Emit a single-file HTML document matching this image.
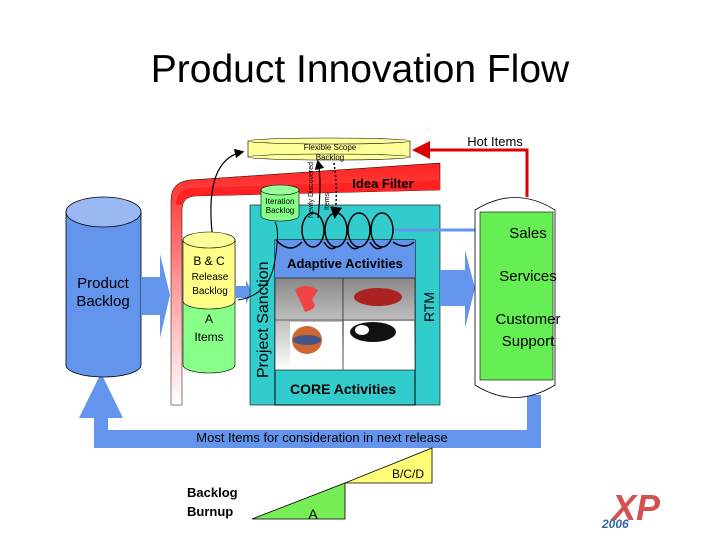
<!DOCTYPE html>
<html><head><meta charset="utf-8"><style>
body{margin:0;background:#fff}
svg{display:block}
text{font-family:"Liberation Sans","DejaVu Sans",sans-serif}
</style></head><body>
<svg width="720" height="540" viewBox="0 0 720 540" xmlns="http://www.w3.org/2000/svg">
<defs>
<linearGradient id="rg" x1="0" y1="0" x2="0" y2="1">
<stop offset="0" stop-color="#f22"/><stop offset="0.5" stop-color="#f99"/><stop offset="1" stop-color="#fff"/></linearGradient>
<linearGradient id="gg" x1="0" y1="0" x2="0" y2="1">
<stop offset="0" stop-color="#888"/><stop offset="1" stop-color="#fff"/></linearGradient>
<marker id="ah" markerWidth="8" markerHeight="8" refX="6" refY="4" orient="auto"><path d="M0,0 L8,4 L0,8z" fill="#000"/></marker>
<marker id="ahr" markerWidth="6" markerHeight="6" refX="4" refY="3" orient="auto"><path d="M0,0 L6,3 L0,6z" fill="#d00"/></marker>
</defs>
<text x="360" y="82" font-size="39" text-anchor="middle">Product Innovation Flow</text>

<!-- bottom loop -->
<rect x="94" y="410" width="14" height="38" fill="#6495ed"/>
<rect x="94" y="430" width="447" height="18" fill="#6495ed"/>
<rect x="527" y="395" width="14" height="53" fill="#6495ed"/>
<polygon points="101,373 79,418 123,418" fill="#6495ed"/>
<text x="322" y="442" font-size="13" text-anchor="middle">Most Items for consideration in next release</text>

<!-- product backlog -->
<path d="M66,212 V365 A37.5,12 0 0 0 141,365 V212z" fill="#6495ed" stroke="#000" stroke-width="0.8"/>
<ellipse cx="103.5" cy="212" rx="37.5" ry="15" fill="#9ab8f4" stroke="#000" stroke-width="0.8"/>
<text x="103" y="288" font-size="15" text-anchor="middle" fill="#000">Product</text>
<text x="103" y="306" font-size="15" text-anchor="middle" fill="#000">Backlog</text>
<polygon points="141,277 160,277 160,254 170,295 160,338 160,315 141,315" fill="#6495ed"/>

<!-- red idea filter band -->
<path d="M171,405 V200 Q171,182 190,180 L440,163 L440,190 L195,196 Q182,197 182,210 V405z" fill="url(#rg)" stroke="#000" stroke-width="0.5"/>
<path d="M182,205 Q183,196 195,196 L440,190 V180 L190,188 Q176,190 176,205z" fill="#f22"/>
<text x="383" y="188" font-size="13" font-weight="bold" text-anchor="middle">Idea Filter</text>

<!-- release backlog cylinder -->
<path d="M183,240 V365 A26,8 0 0 0 235,365 V240z" fill="#8f8" stroke="#000" stroke-width="0.6"/>
<path d="M183,240 V301 A26,8 0 0 0 235,301 V240z" fill="#ff8" stroke="#000" stroke-width="0.6"/>
<ellipse cx="209" cy="240" rx="26" ry="8" fill="#ffff99" stroke="#000" stroke-width="0.6"/>
<text x="209" y="265" font-size="12" text-anchor="middle">B &amp; C</text>
<text x="210" y="280" font-size="10" text-anchor="middle">Release</text>
<text x="210" y="294" font-size="10" text-anchor="middle">Backlog</text>
<text x="209" y="323" font-size="12" text-anchor="middle">A</text>
<text x="209" y="341" font-size="12" text-anchor="middle">Items</text>
<polygon points="235,286 246,286 246,280 252,292 246,304 246,298 235,298" fill="#6495ed"/>

<!-- teal box -->
<rect x="250" y="205" width="190" height="200" fill="#33cccc" stroke="#000" stroke-width="0.6"/>
<rect x="275" y="240" width="140" height="165" fill="#33cccc" stroke="#000" stroke-width="1"/>
<rect x="275" y="240" width="140" height="38" fill="#6495ed"/>
<rect x="275" y="278" width="140" height="92" fill="url(#gg)" stroke="#000" stroke-width="0.6"/>
<line x1="343" y1="278" x2="343" y2="370" stroke="#000" stroke-width="0.6"/>
<line x1="275" y1="320" x2="415" y2="320" stroke="#000" stroke-width="0.6"/>
<rect x="290" y="322" width="52" height="47" fill="#fff"/>
<rect x="344" y="321" width="70" height="48" fill="#fff"/>
<text x="345" y="268" font-size="13" font-weight="bold" text-anchor="middle">Adaptive Activities</text>
<text x="343" y="394" font-size="14" font-weight="bold" text-anchor="middle">CORE Activities</text>
<text transform="translate(268,378) rotate(-90)" font-size="16">Project Sanction</text>
<text transform="translate(434,322) rotate(-90)" font-size="14">RTM</text>
<path d="M295,290 Q305,282 318,290 L312,300 Q320,308 305,312 Q300,300 295,290z" fill="#e44"/>
<ellipse cx="378" cy="297" rx="24" ry="9" fill="#a22"/>
<ellipse cx="307" cy="340" rx="15" ry="14" fill="#c63"/>
<ellipse cx="307" cy="340" rx="14" ry="5" fill="#458"/>
<ellipse cx="373" cy="332" rx="23" ry="10" fill="#111"/>
<ellipse cx="362" cy="330" rx="7" ry="5" fill="#fff"/>
<!-- coils -->
<g fill="none" stroke="#000" stroke-width="1.5">
<ellipse cx="313" cy="230" rx="11" ry="17"/>
<ellipse cx="336" cy="230" rx="11" ry="17"/>
<ellipse cx="359" cy="230" rx="11" ry="17"/>
<ellipse cx="382" cy="230" rx="11" ry="17"/>
<path d="M276,240 Q290,255 302,242 M324,242 Q330,252 336,247 M347,242 Q353,252 359,247 M370,242 Q376,252 382,247 M393,242 Q405,250 414,242"/>
</g>
<line x1="395" y1="230" x2="480" y2="230" stroke="#6495ed" stroke-width="3"/>

<!-- iteration backlog -->
<path d="M261,190 V216 A19,5 0 0 0 299,216 V190z" fill="#8f8" stroke="#000" stroke-width="0.6"/>
<ellipse cx="280" cy="190" rx="19" ry="5" fill="#9f9" stroke="#000" stroke-width="0.6"/>
<text x="280" y="204" font-size="8" text-anchor="middle">Iteration</text>
<text x="280" y="213" font-size="8" text-anchor="middle">Backlog</text>

<!-- flexible scope -->
<rect x="248" y="141" width="162" height="16" fill="#ffff99" stroke="#000" stroke-width="0.6"/>
<ellipse cx="329" cy="157" rx="81" ry="3" fill="#ffff99" stroke="#000" stroke-width="0.6"/>
<ellipse cx="329" cy="141" rx="81" ry="3" fill="#ffff99" stroke="#000" stroke-width="0.6"/>
<text x="330" y="150" font-size="8" text-anchor="middle">Flexible Scope</text>
<text x="330" y="160" font-size="8" text-anchor="middle">Backlog</text>
<path d="M212,232 Q205,160 242,152" fill="none" stroke="#000" stroke-width="1.2" marker-end="url(#ah)"/>
<path d="M318,218 Q322,180 318,162" fill="none" stroke="#000" stroke-width="1.2" marker-end="url(#ah)"/>
<path d="M334,163 Q338,190 335,216" fill="none" stroke="#000" stroke-width="1.5" stroke-dasharray="2,2" marker-end="url(#ah)"/>
<text transform="translate(313,218) rotate(-90)" font-size="7">Newly Discovered</text>
<text transform="translate(329,210) rotate(-90)" font-size="7">Items</text>
<path d="M238,300 Q270,295 275,260 Q280,230 275,222" fill="none" stroke="#000" stroke-width="1"/>

<!-- hot items -->
<polyline points="527,197 527,150 418,150" fill="none" stroke="#d00" stroke-width="3" marker-end="url(#ahr)"/>
<text x="495" y="146" font-size="13" text-anchor="middle">Hot Items</text>

<polygon points="440,270 465,270 465,250 475,288 465,328 465,306 440,306" fill="#6495ed"/>

<!-- right cylinder -->
<path d="M475,210 V385 Q515,410 555,385 V210 Q515,185 475,210z" fill="#fff" stroke="#000" stroke-width="0.8"/>
<rect x="480" y="212" width="73" height="168" fill="#66ee55" stroke="#000" stroke-width="0.6"/>
<text x="528" y="238" font-size="15" text-anchor="middle">Sales</text>
<text x="528" y="281" font-size="15" text-anchor="middle">Services</text>
<text x="528" y="324" font-size="15" text-anchor="middle">Customer</text>
<text x="528" y="346" font-size="15" text-anchor="middle">Support</text>

<!-- burnup -->
<polygon points="252,519 345,519 345,483" fill="#77ee55" stroke="#000" stroke-width="0.8"/>
<polygon points="345,483 432,483 432,448" fill="#ffff77" stroke="#000" stroke-width="0.8"/>
<text x="313" y="519" font-size="14" text-anchor="middle">A</text>
<text x="408" y="478" font-size="12" text-anchor="middle">B/C/D</text>
<text x="187" y="497" font-size="13" font-weight="bold">Backlog</text>
<text x="187" y="516" font-size="13" font-weight="bold">Burnup</text>

<text x="612" y="520" font-size="36" font-weight="bold" font-style="italic" fill="#c33" opacity="0.85">XP</text>
<text x="602" y="528" font-size="12" font-weight="bold" font-style="italic" fill="#36a">2006</text>
</svg>
</body></html>
